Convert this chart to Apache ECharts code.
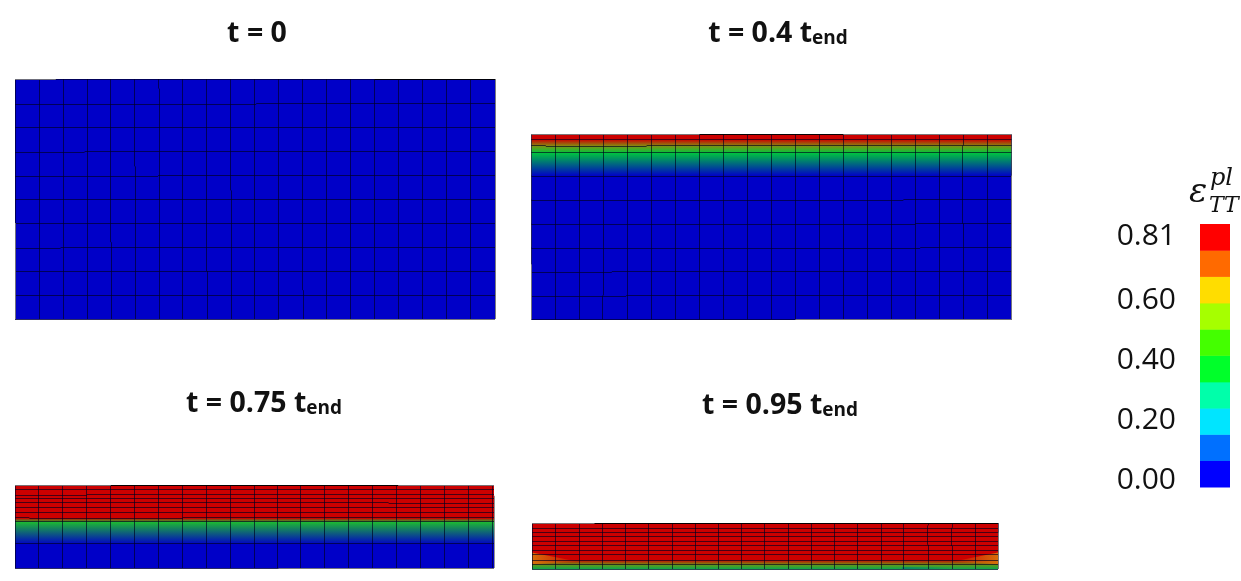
<!DOCTYPE html>
<html><head><meta charset="utf-8">
<style>html,body{margin:0;padding:0;background:#fff}#c{width:1241px;height:581px}</style>
<script src="https://cdn.jsdelivr.net/npm/echarts@6/dist/echarts.min.js"></script>
</head><body><div id="c"></div>
<script>
// Mesh coordinates: one undeformed element = 1 unit
const titles = ['t = 0', 't = 0.4 t', 't = 0.75 t', 't = 0.95 t'];
const titleSubs = ['', 'end', 'end', 'end'];
const colEdges = [0,1,2,3,4,5,6,7,8,9,10,11,12,13,14,15,16,17,18,19,20];
const colEdges3 = [0,1,1.98,2.98,3.98,4.98,5.98,6.98,7.98,8.98,9.98,10.98,11.94,12.94,13.94,14.94,15.94,16.94,17.94,18.94,19.94];
const colEdges4 = [0,0.97,1.99,2.95,3.9,4.85,5.86,6.82,7.78,8.74,9.68,10.68,11.65,12.6,13.57,14.57,15.51,16.49,17.49,18.45,19.4];
const rowEdges1 = [0,1,2,3,4,5,6,7,8,9,10];
const strain1 = [0,0,0,0,0,0,0,0,0,0,0];
const rowEdges2 = [0,1,2,3,4,5,6,6.96,7.25,7.5,7.71];
const strain2 = [0,0,0,0,0,0,0,0.4,0.58,0.81,0.81];
const rowEdges3 = [0,1,1.92,2.08,2.29,2.5,2.71,2.88,3.04,3.25,3.45];
const strain3 = [0,0,0.44,0.81,0.81,0.81,0.81,0.81,0.81,0.81,0.81];
const rowEdges4 = [0,0.19,0.37,0.58,0.78,0.96,1.13,1.33,1.5,1.69,1.9];
const strain4 = [0.34,0.55,0.81,0.81,0.81,0.81,0.81,0.81,0.81,0.81,0.81];
// Softer corner patches of the last frame: [x,y] outline, strain at the edge, fade direction
const patches4 = [
  {pts:[[0,0.68],[1.95,0.3],[0,0.2]], strain:0.7, fromLeft:true},
  {pts:[[19.4,0.68],[17.5,0.3],[19.4,0.2]], strain:0.7, fromLeft:false},
  {pts:[[15.4,0.07],[17.4,0.07],[17.4,0],[15.4,0]], strain:0.27, fromLeft:true}
];
// Runs of a mesh line that sit one step off its straight course: [x1,y1,x2,y2]
const runs1 = [[0,9,10.05,9],[0,7,2.9,7],[0,6,5.96,6],[0,3,1.9,3],[4,10,4,3.2],[5,10,5,6.36],[6,10,6,9.6],[7,10,7,0],[8,10,8,2],[9,10,9,5.36],[10,10,10,0],[11,10,11,0],[12,10,12,1.2],[13,10,13,0],[14,10,14,0],[15,10,15,0],[16,10,16,0],[17,10,17,0],[18,10,18,0],[19,10,19,0]];
const runs2 = [[0,6,20,6],[0,5,15.5,5],[0,4,16,4],[0,3,16.2,3],[0,2,3.35,2],[0,1,3.95,1],[18,7.25,18,4],[3,1,3,0],[0.6,7.25,4.8,7.25]];
const runs3 = [[0,3.04,3,3.04],[15.6,2.71,20,2.71],[0.6,2.08,7,2.08]];
const runs4 = [[16.49,1.8,16.49,1.0],[17.49,1.7,17.49,0.95],[15.51,1.9,15.51,0]];
const black1 = [[15,10,20,10]];
const black2 = [[7,7.71,13,7.71]];
const black3 = [[4,3.45,16,3.45]];
const black4 = [[2.6,1.9,19.4,1.9]];
const edge1 = [[0,10,1.7,10],[0,0,0,4],[11,0,20,0],[20,0,20,10]];
const edge2 = [[0,7.71,7,7.71],[13,7.71,20,7.71],[0,0,0,2.3],[20,0,20,6],[11,0,20,0]];
const edge3 = [[0,3.45,4,3.45],[16,3.45,20,3.45],[11,0,20,0],[20,0,20,3]];
const edge4 = [[0,1.9,2.6,1.9],[19.4,0,19.4,1.5]];
// Colour bar
const barEdges = [-0.027,0.061,0.148,0.235,0.322,0.41,0.497,0.584,0.672,0.759,0.846];
const barColors = ['#0000ff','#0070ff','#00e5ff','#00ffaa','#00ff2a','#44ff00','#a6ff00','#ffdd00','#ff6a00','#ff0000'];
const barTicks = [0,0.2,0.4,0.6,0.81];
const barTickLabels = {0:'0.00',0.2:'0.20',0.4:'0.40',0.6:'0.60',0.81:'0.81'};
const strainStops = [0,0.4,0.55,0.7,0.81];
const strainRgb = [[0,0,200],[0,200,60],[110,150,20],[215,110,10],[204,0,0]];

const panels = [
  {cols:colEdges,rows:rowEdges1,strain:strain1,runs:runs1,black:black1,edge:edge1,patches:[],left:15,top:79,w:480,h:240,xMax:20,yMax:10},
  {cols:colEdges,rows:rowEdges2,strain:strain2,runs:runs2,black:black2,edge:edge2,patches:[],left:531.4,top:134.5,w:480,h:185,xMax:20,yMax:7.71},
  {cols:colEdges3,rows:rowEdges3,strain:strain3,runs:runs3,black:black3,edge:edge3,patches:[],left:15,top:485,w:479,h:83,xMax:20,yMax:3.45},
  {cols:colEdges4,rows:rowEdges4,strain:strain4,runs:runs4,black:black4,edge:edge4,patches:patches4,left:532,top:523,w:466,h:46,xMax:19.4,yMax:1.9}
];
const titlePos = [[257,12],[778,12],[264,382],[780,384]];

function strainColor(s,alpha){
  let k=0;
  while(k<strainStops.length-2 && s>strainStops[k+1]) k++;
  const t=Math.min(1,(s-strainStops[k])/(strainStops[k+1]-strainStops[k]));
  const p=strainRgb[k], q=strainRgb[k+1];
  return 'rgba('+p.map((v,i)=>Math.round(v+(q[i]-v)*t)).join(',')+','+(alpha===undefined?1:alpha)+')';
}
function vGrad(top,bottom){
  return new echarts.graphic.LinearGradient(0,0,0,1,[{offset:0,color:strainColor(top)},{offset:1,color:strainColor(bottom)}]);
}
function fade(s,fromLeft){
  const stops=[{offset:0,color:strainColor(s,1)},{offset:1,color:strainColor(s,0)}];
  return fromLeft?new echarts.graphic.LinearGradient(0,0,1,0,stops):new echarts.graphic.LinearGradient(1,0,0,0,stops);
}
const snap=v=>Math.floor(v+1e-6)+0.5;
function lineSeries(i,data,stroke,width,z){
  return {type:'custom',xAxisIndex:i,yAxisIndex:i,silent:true,z:z,data:data,clip:false,
    encode:{x:[0,2],y:[1,3]},
    renderItem:(p,api)=>{
      const a=api.coord([api.value(0),api.value(1)]), b=api.coord([api.value(2),api.value(3)]);
      const vert=api.value(0)===api.value(2);
      const off=api.value(4)?1:0;
      return {type:'line',shape:vert
        ?{x1:snap(a[0])-off,y1:a[1],x2:snap(a[0])-off,y2:b[1]}
        :{x1:a[0],y1:snap(a[1])+off,x2:b[0],y2:snap(a[1])+off},
        style:{stroke:stroke,lineWidth:width}};
    }};
}
// Split each straight mesh line into plain stretches and stepped runs
function meshSegments(P){
  const out=[];
  P.cols.forEach(x=>{
    const rs=P.runs.filter(r=>r[0]===x&&r[2]===x).map(r=>[Math.min(r[1],r[3]),Math.max(r[1],r[3])]).sort((p,q)=>p[0]-q[0]);
    let c=0;
    rs.forEach(r=>{ if(r[0]>c) out.push([x,c,x,r[0],0]); out.push([x,r[0],x,r[1],1]); c=r[1]; });
    if(c<P.yMax) out.push([x,c,x,P.yMax,0]);
  });
  P.rows.forEach(y=>{
    const rs=P.runs.filter(r=>r[1]===y&&r[3]===y).map(r=>[r[0],r[2]]).sort((p,q)=>p[0]-q[0]);
    let c=0;
    rs.forEach(r=>{ if(r[0]>c) out.push([c,y,r[0],y,0]); out.push([r[0],y,r[1],y,1]); c=r[1]; });
    if(c<P.xMax) out.push([c,y,P.xMax,y,0]);
  });
  return out;
}
const grid=[],xAxis=[],yAxis=[],series=[];
panels.forEach((P,i)=>{
  grid.push({left:P.left,top:P.top,width:P.w,height:P.h,containLabel:false});
  xAxis.push({type:'value',gridIndex:i,min:0,max:P.xMax,show:false});
  yAxis.push({type:'value',gridIndex:i,min:0,max:P.yMax,show:false});
  const rowBands=[];
  for(let r=0;r<P.rows.length-1;r++) rowBands.push([0,P.rows[r],P.xMax,P.rows[r+1],P.strain[r],P.strain[r+1]]);
  series.push({type:'custom',xAxisIndex:i,yAxisIndex:i,silent:true,z:2,data:rowBands,
    encode:{x:[0,2],y:[1,3]},
    renderItem:(p,api)=>{
      const a=api.coord([api.value(0),api.value(3)]), b=api.coord([api.value(2),api.value(1)]);
      return {type:'rect',shape:{x:a[0],y:a[1],width:b[0]-a[0],height:b[1]-a[1]+0.5},
        style:{fill:vGrad(api.value(5),api.value(4))}};
    }});
  if(P.patches.length){
    series.push({type:'custom',xAxisIndex:i,yAxisIndex:i,silent:true,z:3,data:P.patches.map((_,k)=>[k]),
      encode:{x:[],y:[]},
      renderItem:(p,api)=>{
        const q=P.patches[api.value(0)];
        return {type:'polygon',shape:{points:q.pts.map(v=>api.coord(v))},style:{fill:fade(q.strain,q.fromLeft)}};
      }});
  }
  series.push(lineSeries(i,meshSegments(P),'rgba(0,0,30,0.65)',1,4));
  series.push(lineSeries(i,P.black,'rgba(0,0,0,0.9)',1,5));
  series.push(lineSeries(i,P.edge,'rgba(130,130,130,0.85)',1,6));
});
// Colour bar grid, and a second grid that carries its tick labels
const bi=panels.length;
grid.push({left:1200,top:224,width:30,height:263,containLabel:false});
xAxis.push({type:'value',gridIndex:bi,min:0,max:1,show:false});
yAxis.push({type:'value',gridIndex:bi,min:barEdges[0],max:barEdges[barEdges.length-1],show:false});
grid.push({left:1200,top:226,width:30,height:263,containLabel:false});
xAxis.push({type:'value',gridIndex:bi+1,min:0,max:1,show:false});
yAxis.push({type:'value',gridIndex:bi+1,min:barEdges[0],max:barEdges[barEdges.length-1],position:'left',
  axisLine:{show:false},axisTick:{show:false},splitLine:{show:false},
  axisLabel:{show:true,customValues:barTicks,margin:24,color:'#111',fontFamily:'Open Sans',fontSize:30,
    formatter:v=>barTickLabels[v]}});
series.push({type:'custom',xAxisIndex:bi,yAxisIndex:bi,silent:true,z:2,
  data:barColors.map((c,k)=>[0,barEdges[k],1,barEdges[k+1]]),
  encode:{x:[0,2],y:[1,3]},
  renderItem:(p,api)=>{
    const a=api.coord([api.value(0),api.value(3)]), b=api.coord([api.value(2),api.value(1)]);
    return {type:'rect',shape:{x:a[0],y:a[1],width:b[0]-a[0],height:b[1]-a[1]+0.5},style:{fill:barColors[p.dataIndex]}};
  }});

const title=titles.map((t,i)=>({
  left:titlePos[i][0],top:titlePos[i][1],textAlign:'center',padding:0,
  text:titleSubs[i]?`{a|${t}}{b|${titleSubs[i]}}`:`{a|${t}}`,
  textStyle:{rich:{
    a:{fontFamily:'Open Sans',fontWeight:'bold',fontSize:28.5,color:'#111',lineHeight:36,verticalAlign:'bottom'},
    b:{fontFamily:'Open Sans',fontWeight:'bold',fontSize:19,color:'#111',lineHeight:28,verticalAlign:'bottom'}}}
}));
const serif='DejaVu Serif';
title.push({left:1189,top:176,padding:0,text:'ε',textStyle:{fontFamily:serif,fontStyle:'italic',fontWeight:'normal',fontSize:34,color:'#111'}});
title.push({left:1210,top:167,padding:0,text:'pl',textStyle:{fontFamily:serif,fontStyle:'italic',fontWeight:'normal',fontSize:24,color:'#111'}});
title.push({left:1209,top:195,padding:0,text:'TT',textStyle:{fontFamily:serif,fontStyle:'italic',fontWeight:'normal',fontSize:22,color:'#111'}});

const chart=echarts.init(document.getElementById('c'),null,{renderer:'canvas'});
chart.setOption({animation:false,backgroundColor:'#fff',title,grid,xAxis,yAxis,series,tooltip:{show:false}});
</script></body></html>
